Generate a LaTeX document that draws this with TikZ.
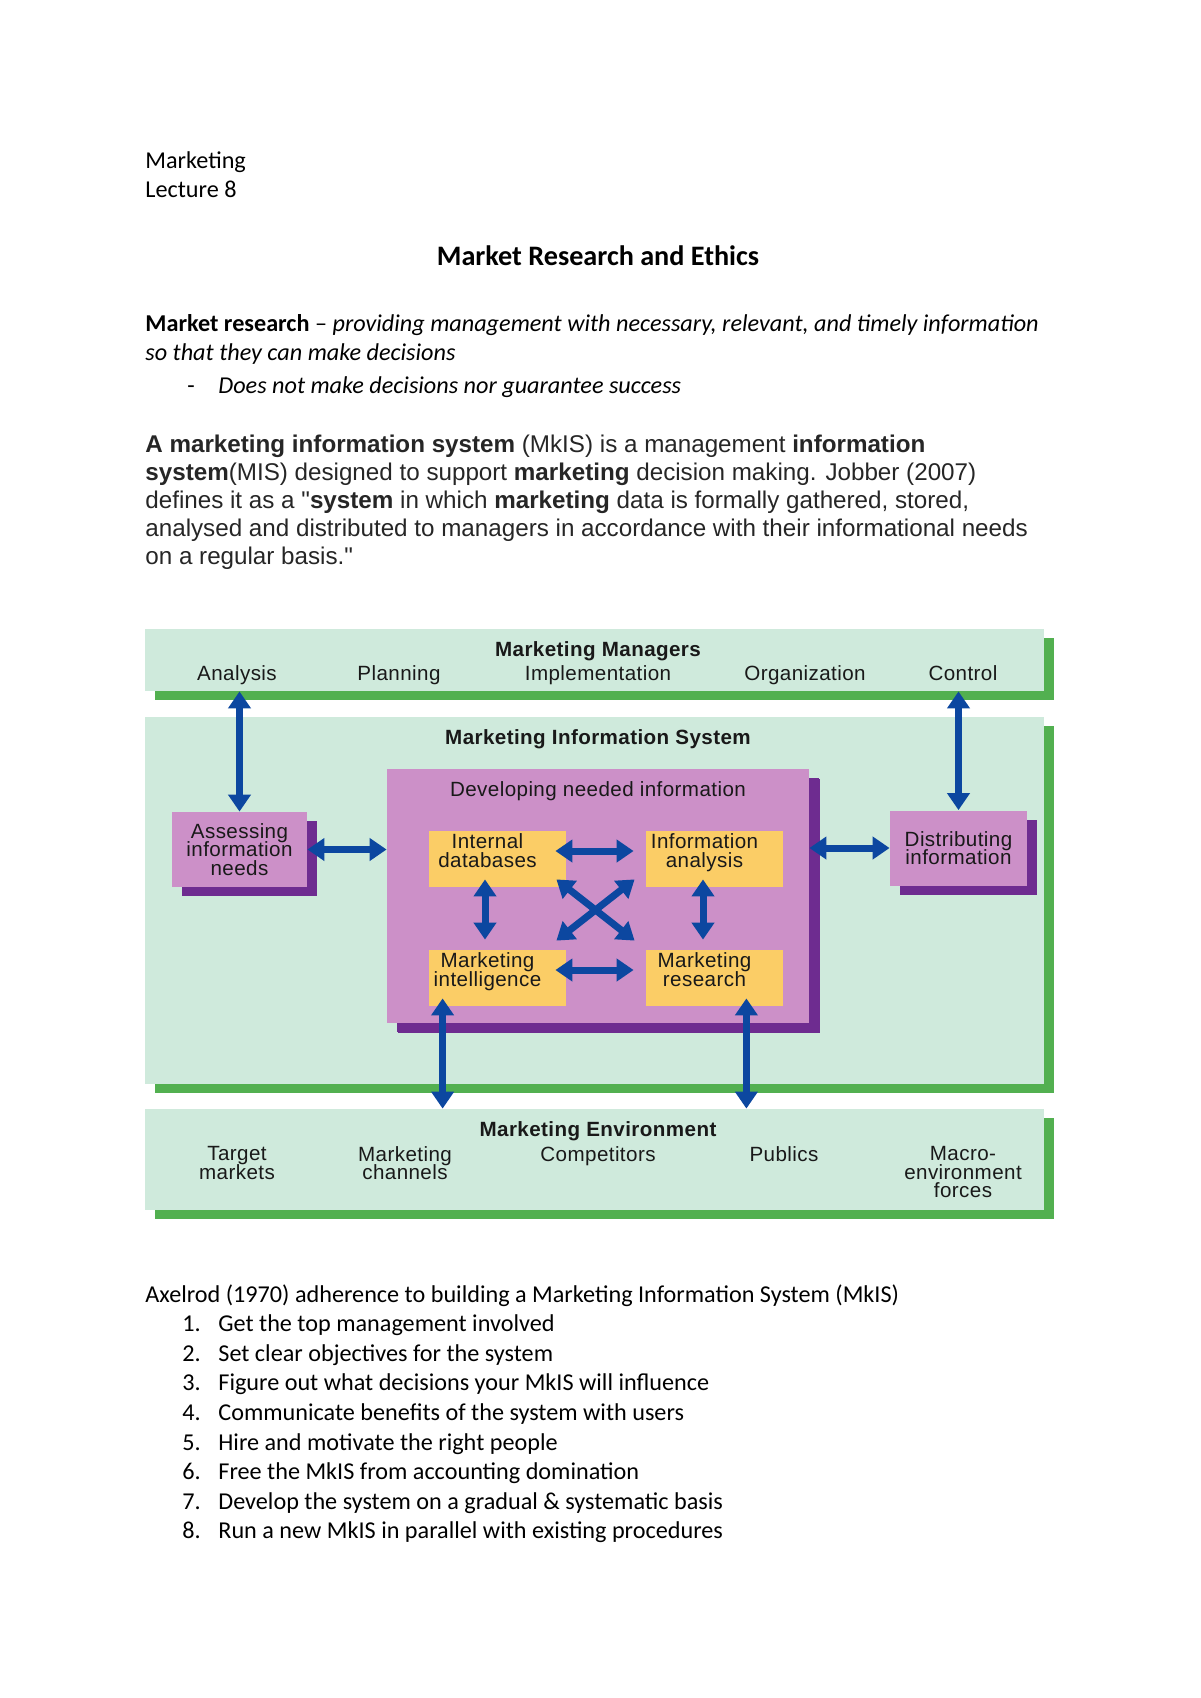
\documentclass[tikz,border=0pt]{standalone}
\usepackage{fontspec}
\setmainfont{Carlito}
\newfontfamily\parafont{Liberation Sans}
\newfontfamily\diagfont[LetterSpace=2]{Liberation Sans}
\usetikzlibrary{calc}
\usetikzlibrary{arrows.meta}
\usetikzlibrary{shadows}

\definecolor{bandgreen}{HTML}{CFEADC}
\definecolor{shadegreen}{HTML}{52B050}
\definecolor{lilac}{HTML}{CC90C8}
\definecolor{plum}{HTML}{6E2C90}
\definecolor{gold}{HTML}{FBCD66}
\definecolor{arrblue}{HTML}{0C47A0}

\newcommand\dsize{\diagfont\fontsize{10.3}{9.3}\selectfont\lineskiplimit=-20pt}

\tikzset{
 band/.style={fill=bandgreen, inner sep=0, minimum width=449.5pt,
   drop shadow={shadow xshift=5pt, shadow yshift=-4.5pt, fill=shadegreen, opacity=1}},
 pbox/.style={fill=lilac, inner sep=0,
   drop shadow={shadow xshift=5pt, shadow yshift=-4.5pt, fill=plum, opacity=1}},
 ybox/.style={fill=gold, inner sep=0, minimum width=68.5pt, minimum height=28pt},
 lbl/.style={font=\dsize, align=center, text=black!90, inner sep=0},
 head/.style={lbl, font=\dsize\bfseries},
 dbl/.style={draw=arrblue, line width=3.5pt,
   {Triangle[width=11pt,length=8.5pt]}-{Triangle[width=11pt,length=8.5pt]}},
 body/.style={anchor=base west, inner sep=0, font=\fontsize{12.1}{14.6}\selectfont},
 para/.style={body, font=\parafont\fontsize{12.1}{14}\selectfont, text=black!85}
}

\begin{document}
\begin{tikzpicture}[x=0.5pt, y=-0.5pt]
\fill[white] (0,0) rectangle (1200,1698);
\useasboundingbox (0,0) rectangle (1200,1698);

\node[body] (hd1) at (145,168) {Marketing};
\node[body] (hd2) at (145,197) {Lecture 8};
\node[body, anchor=base, font=\fontsize{14.1}{17}\selectfont\bfseries] (title) at (598,265) {Market Research and Ethics};
\node[body] (def1) at (145,331) {\textbf{Market research} – \textit{providing management with necessary, relevant, and timely information}};
\node[body] (def2) at (145,360) {\textit{so that they can make decisions}};
\node[body] (dash) at (187,393) {-};
\node[body] (def3) at (218,393) {\textit{Does not make decisions nor guarantee success}};

\node[para] (p1) at (145,452) {\textbf{A marketing information system} (MkIS) is a management \textbf{information}};
\node[para] (p2) at (145,480) {\textbf{system}(MIS) designed to support \textbf{marketing} decision making. Jobber (2007)};
\node[para] (p3) at (145,508) {defines it as a "\textbf{system} in which \textbf{marketing} data is formally gathered, stored,};
\node[para] (p4) at (145,536) {analysed and distributed to managers in accordance with their informational needs};
\node[para] (p5) at (145,564) {on a regular basis."};

\node[band, minimum height=31pt] (mgr) at (594.5,660) {};
\node[band, minimum height=183.5pt] (mis) at (594.5,900.5) {};
\node[band, minimum height=50.5pt] (env) at (594.5,1159.5) {};

\node[head, anchor=base] (mgrt) at (598,656) {Marketing Managers};
\foreach \t/\x [count=\i] in {Analysis/237, Planning/399, Implementation/598, Organization/805, Control/963}
 \node[lbl, anchor=base] (m\i) at (\x,680) {\t};

\node[head, anchor=base] (mist) at (598,744) {Marketing Information System};
\node[pbox, minimum width=211pt, minimum height=127pt,
  drop shadow={shadow xshift=5.5pt, shadow yshift=-5pt, fill=plum, opacity=1}] (dev) at (598,896) {};
\node[lbl, anchor=base] (devt) at (598,796) {Developing needed information};

\node[pbox, lbl, minimum width=67.5pt, minimum height=37.5pt] (assess) at (239.5,849.5) {Assessing\\information\\needs};
\node[pbox, lbl, minimum width=68.5pt, minimum height=37.5pt] (distrib) at (958.5,848) {Distributing\\information};

\node[ybox, label={[lbl, anchor=north, xshift=-5pt, yshift=-1.5pt]north:{Internal\\databases}}] (intdb) at (497.5,859) {};
\node[ybox, label={[lbl, anchor=north, xshift=-5pt, yshift=-1.5pt]north:{Information\\analysis}}] (infoan) at (714.5,859) {};
\node[ybox, label={[lbl, anchor=north, xshift=-5pt, yshift=-1.5pt]north:{Marketing\\intelligence}}] (intel) at (497.5,978) {};
\node[ybox, label={[lbl, anchor=north, xshift=-5pt, yshift=-1.5pt]north:{Marketing\\research}}] (mres) at (714.5,978) {};

\node[head, anchor=base] (envt) at (598,1136) {Marketing Environment};
\foreach \t/\x [count=\i] in {{Target\\markets}/237, {Marketing\\channels}/405, Competitors/598, Publics/784, {Macro-\\environment\\forces}/963}
 \node[lbl, anchor=north] (e\i) at (\x,1146) {\t};

\draw[dbl] (assess.north) -- (assess.north |- mgr.south);
\draw[dbl] (distrib.north) -- (distrib.north |- mgr.south);
\draw[dbl] (assess.east) -- (assess.east -| dev.west);
\draw[dbl] (dev.east |- distrib.west) -- (distrib.west);
\draw[dbl] ($(intdb.east)+(-11,-8)$) -- ($(infoan.west)+(-12,-8)$);
\draw[dbl] ($(intel.east)+(-11,-8)$) -- ($(mres.west)+(-12,-8)$);
\draw[dbl] ($(intdb.south)+(-12.5,-8)$) -- ($(intel.north)+(-12.5,-10)$);
\draw[dbl] ($(infoan.south)+(-11.5,-8)$) -- ($(mres.north)+(-11.5,-10)$);
\draw[dbl] ($(intdb.south east)+(-10,-8)$) -- ($(mres.north west)+(-11,-9)$);
\draw[dbl] ($(infoan.south west)+(-11,-8)$) -- ($(intel.north east)+(-10,-9)$);
\coordinate (b1) at ($(intel.south west)+(14,-8)$);
\coordinate (b2) at ($(mres.south east)+(-37,-8)$);
\draw[dbl] (b1) -- (b1 |- env.north);
\draw[dbl] (b2) -- (b2 |- env.north);

\node[body] (ax) at (145,1302) {Axelrod (1970) adherence to building a Marketing Information System (MkIS)};
\foreach \t [count=\i] in {Get the top management involved, Set clear objectives for the system,
  Figure out what decisions your MkIS will influence, Communicate benefits of the system with users,
  Hire and motivate the right people, Free the MkIS from accounting domination,
  Develop the system on a gradual \& systematic basis, Run a new MkIS in parallel with existing procedures} {
 \node[body] (n\i) at (182,{1302+29.6*\i}) {\i.};
 \node[body] (l\i) at (218,{1302+29.6*\i}) {\t};
}
\end{tikzpicture}
\end{document}
